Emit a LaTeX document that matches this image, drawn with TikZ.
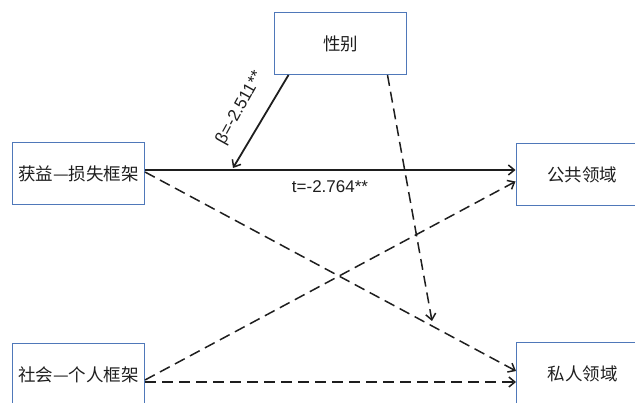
\documentclass[tikz,border=0pt]{standalone}
\usepackage{fontspec}
\setmainfont{Liberation Sans}
\newfontfamily\cjk{Noto Sans CJK SC}
\usetikzlibrary{arrows.meta}
\definecolor{boxblue}{RGB}{79,120,185}
\definecolor{ink}{RGB}{30,30,30}
\begin{document}
\begin{tikzpicture}[x=1pt,y=-1pt,
  box/.style={draw=boxblue,line width=1pt,minimum width=132pt,minimum height=62pt,inner sep=0pt,font=\cjk\fontsize{17.5}{19}\selectfont,text=ink},
  lab/.style={font=\fontsize{17}{19}\selectfont,text=ink,inner sep=1pt},
  arr/.style={draw=ink,line width=1.8pt,-{Straight Barb[length=6pt,width=10pt,line width=1.5pt]}},
  dsh/.style={arr,line width=1.5pt,dash pattern=on 11pt off 6pt}]
\useasboundingbox (0,0) rectangle (635,403);
\node[box] (gender) at (340.5,43.5) {性别};
\node[box] (gain) at (78.5,174) {获益—损失框架};
\node[box] (public) at (582,174.5) {公共领域};
\node[box] (social) at (78.5,375) {社会—个人框架};
\node[box] (private) at (582.5,374) {私人领域};
\coordinate (hit) at (233,168);
\coordinate (hit2) at (432,321);
\draw[arr] ([yshift=4pt]gain.east) -- ([yshift=4.5pt]public.west);
\draw[arr] ([xshift=-52pt]gender.south) -- (hit);
\draw[dsh] ([xshift=47pt]gender.south) -- (hit2);
\draw[dsh] ([yshift=2pt]gain.east) -- ([yshift=3pt]private.west);
\draw[dsh] ([yshift=-5pt]social.east) -- ([yshift=-7pt]public.west);
\draw[dsh] ([yshift=-7pt]social.east) -- ([yshift=-8pt]private.west);
\node[lab] (tlab) at (330,187) {t=-2.764**};
\node[lab,rotate=61] (blab) at (240,108) {β=-2.511**};
\end{tikzpicture}
\end{document}
